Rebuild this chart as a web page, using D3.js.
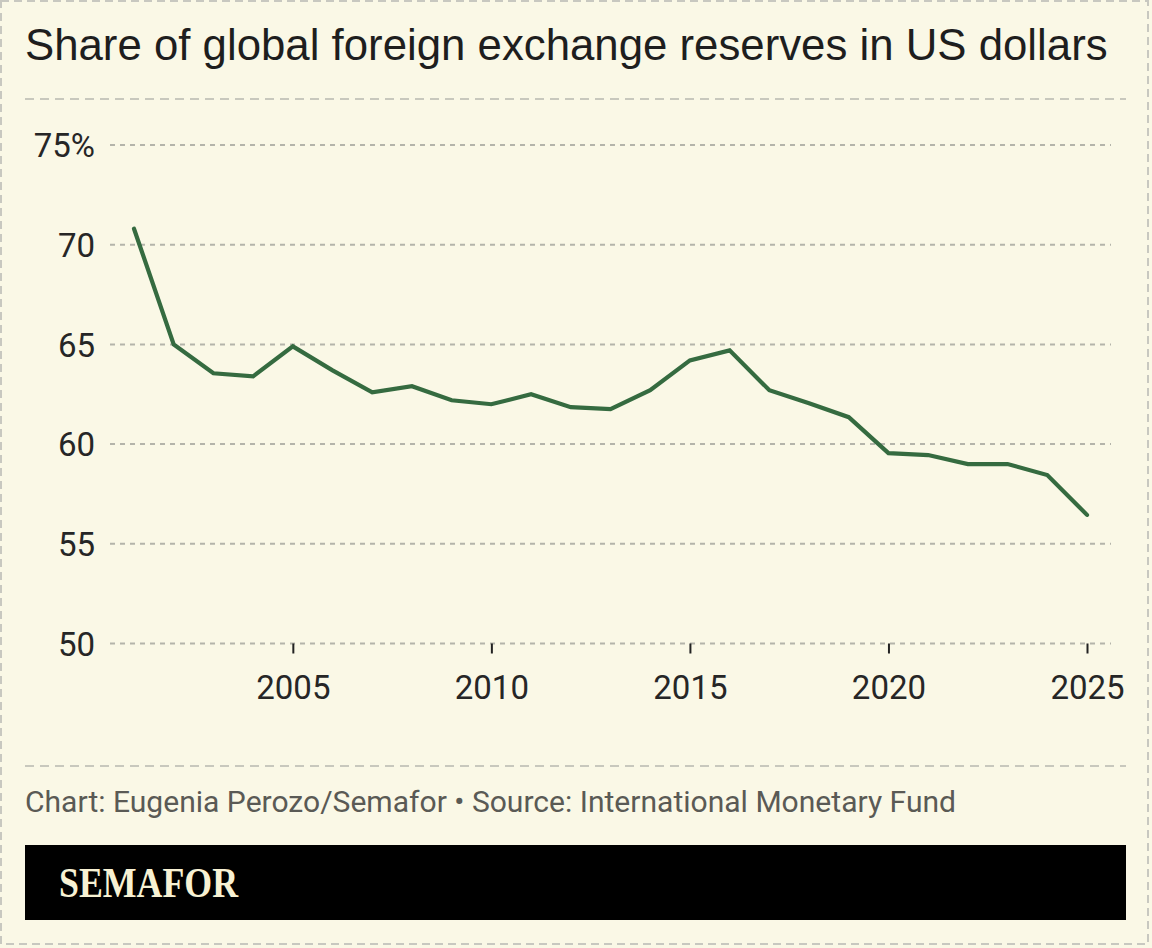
<!DOCTYPE html>
<html><head><meta charset="utf-8">
<script src="https://cdn.jsdelivr.net/npm/d3@7"></script>
<style>
html,body{margin:0;padding:0;background:#faf8e6;}
svg{display:block;}
</style></head>
<body>
<svg id="chart" width="1152" height="948"></svg>
<script>
const years = [2001,2002,2003,2004,2005,2006,2007,2008,2009,2010,2011,2012,2013,2014,2015,2016,2017,2018,2019,2020,2021,2022,2023,2024,2025];
const usdShare = [70.8,65.0,63.55,63.4,64.9,63.7,62.6,62.9,62.2,62.0,62.5,61.85,61.75,62.7,64.2,64.7,62.7,62.05,61.35,59.55,59.45,59.0,59.0,58.45,56.45];
const yTicks = [50,55,60,65,70,75];
const xTicks = [2005,2010,2015,2020,2025];
const titleText = "Share of global foreign exchange reserves in US dollars";
const creditText = "Chart: Eugenia Perozo/Semafor \u2022 Source: International Monetary Fund";
const logoText = "SEMAFOR";

const svg = d3.select("#chart");
const W = 1152, H = 948;
svg.append("rect").attr("x",0).attr("y",0).attr("width",W).attr("height",H).attr("fill","#faf8e6");
// outer dashed border
svg.append("rect").attr("x",1).attr("y",1).attr("width",1147).attr("height",943)
  .attr("fill","none").attr("stroke","#c8c8c0").attr("stroke-width",2).attr("stroke-dasharray","8,5");

// title
const title = svg.append("text").attr("x",25).attr("y",60)
  .attr("font-family","'Liberation Sans', Arial, sans-serif").attr("font-size",37)
  .attr("fill","#1e1e1e").text(titleText);
const tw = title.node().getComputedTextLength();
title.attr("font-size", 37 * 1083 / tw);

// separators
[99, 766].forEach(yy => {
  svg.append("line").attr("x1",25).attr("x2",1126).attr("y1",yy).attr("y2",yy)
    .attr("stroke","#c8c8bd").attr("stroke-width",2).attr("stroke-dasharray","9,6");
});

const x = d3.scaleLinear().domain([2001,2025]).range([134,1087]);
const y = d3.scaleLinear().domain([50,75]).range([643.5,145]);

// y grid + labels
const yAxis = d3.axisLeft(y).tickValues(yTicks).tickSize(0).tickPadding(0)
  .tickFormat(d => d === 75 ? d + "%" : d);
const gy = svg.append("g").attr("transform","translate(95,0)").call(yAxis);
gy.select(".domain").remove();
gy.selectAll("text").attr("font-family","Roboto, 'Open Sans', sans-serif").attr("font-size",33)
  .attr("fill","#262626").attr("dy","0.36em");

svg.append("g").selectAll("line").data(yTicks).join("line")
  .attr("x1",110).attr("x2",1111).attr("y1",d=>y(d)).attr("y2",d=>y(d))
  .attr("stroke","#b4b4aa").attr("stroke-width",2).attr("stroke-dasharray","5,5");

// x axis
const xAxis = d3.axisBottom(x).tickValues(xTicks).tickSize(10).tickPadding(22).tickFormat(d3.format("d"));
const gx = svg.append("g").attr("transform",`translate(0,${y(50)})`).call(xAxis);
gx.select(".domain").remove();
gx.selectAll(".tick line").attr("stroke","#222").attr("stroke-width",2);
gx.selectAll("text").attr("font-family","Roboto, 'Open Sans', sans-serif").attr("font-size",33)
  .attr("fill","#262626");

// line
const line = d3.line().x((d,i)=>x(years[i])).y(d=>y(d));
svg.append("path").datum(usdShare).attr("d",line).attr("fill","none")
  .attr("stroke","#356b40").attr("stroke-width",4.2).attr("stroke-linejoin","miter").attr("stroke-linecap","round");

// credit
svg.append("text").attr("x",25).attr("y",812)
  .attr("font-family","Roboto, 'Open Sans', sans-serif").attr("font-size",30)
  .attr("fill","#5a5a55")
  .attr("textLength",931).attr("lengthAdjust","spacingAndGlyphs").text(creditText);

// logo bar
svg.append("rect").attr("x",25).attr("y",845).attr("width",1101).attr("height",75).attr("fill","#000");
svg.append("text").attr("x",59).attr("y",897)
  .attr("font-family","'Liberation Serif', 'DejaVu Serif', serif").attr("font-weight","bold")
  .attr("font-size",43).attr("fill","#f7f1d3")
  .attr("textLength",179).attr("lengthAdjust","spacingAndGlyphs").text(logoText);
</script>
</body></html>
